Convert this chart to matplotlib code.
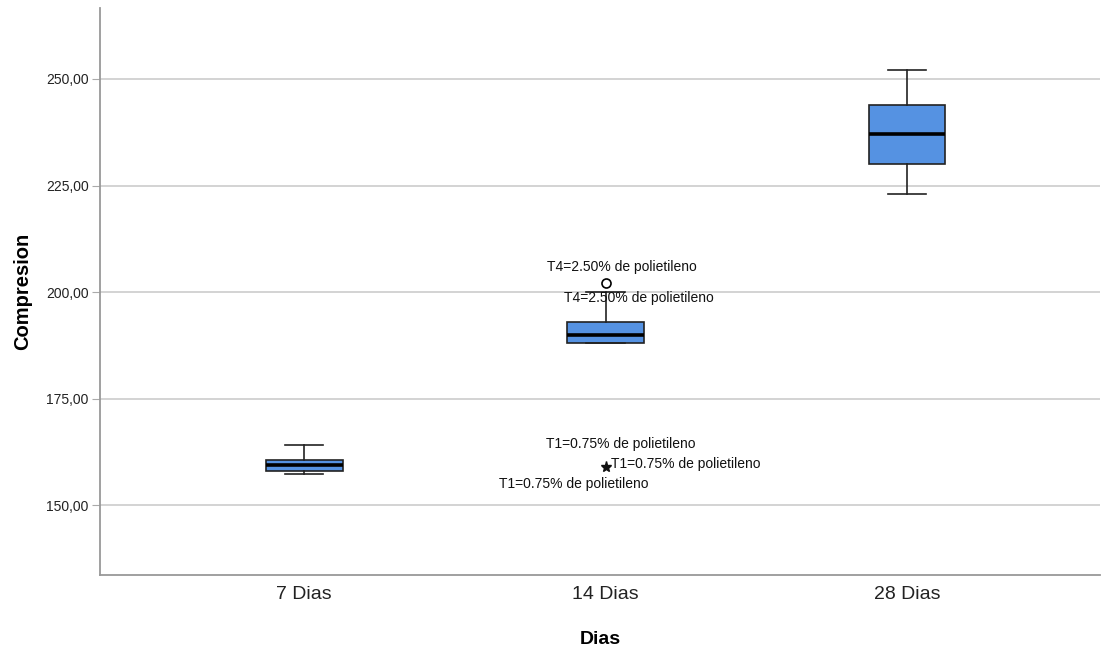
import matplotlib
matplotlib.use("Agg")
import matplotlib.pyplot as plt
from matplotlib.ticker import FuncFormatter

plt.rcParams['font.family'] = ['Liberation Sans', 'DejaVu Sans']

categories = ["7 Dias", "14 Dias", "28 Dias"]
whislo = [157.2, 188.0, 223.0]
q1 = [158.1, 188.0, 230.0]
medians = [159.4, 190.0, 237.0]
q3 = [160.7, 193.0, 244.0]
whishi = [164.1, 200.0, 252.0]

# outliers (group index, value, label)
outlier_group = [1]
outlier_value = [202.1]
outlier_labels = ["T4=2.50% de polietileno", "T4=2.50% de polietileno"]
extreme_group = [1]
extreme_value = [159.0]
extreme_labels = ["T1=0.75% de polietileno", "T1=0.75% de polietileno", "T1=0.75% de polietileno"]

yticks = [150, 175, 200, 225, 250]

fig = plt.figure(figsize=(11.02, 6.51), dpi=100)
ax = fig.add_axes([0.0907, 0.1167, 0.9075, 0.8713])

stats = []
for i, c in enumerate(categories):
    stats.append(dict(label=c, whislo=whislo[i], q1=q1[i], med=medians[i],
                      q3=q3[i], whishi=whishi[i], fliers=[]))

ax.bxp(stats, positions=range(len(categories)), widths=0.255, patch_artist=True,
       showfliers=False,
       boxprops=dict(facecolor='#5592e2', edgecolor='#222222', linewidth=1.2),
       medianprops=dict(color='black', linewidth=2.6),
       whiskerprops=dict(color='#222222', linewidth=1.2),
       capprops=dict(color='#222222', linewidth=1.2),
       capwidths=0.127, zorder=3)

ax.plot(outlier_group, outlier_value, linestyle='none', marker='o', markersize=6.5,
        markerfacecolor='white', markeredgecolor='black', markeredgewidth=1.2, zorder=4)
ax.plot(extreme_group, extreme_value, linestyle='none', marker='*', markersize=8,
        color='#111111', zorder=4)

outlier_offsets = [(16, 16), (33, -15)]
for lab, off in zip(outlier_labels, outlier_offsets):
    ax.annotate(lab, xy=(outlier_group[0], outlier_value[0]), xytext=off,
                textcoords='offset pixels', ha='center', va='center', fontsize=10, color='#111111')
extreme_offsets = [(15, 23), (80, 3), (-32, -17)]
for lab, off in zip(extreme_labels, extreme_offsets):
    ax.annotate(lab, xy=(extreme_group[0], extreme_value[0]), xytext=off,
                textcoords='offset pixels', ha='center', va='center', fontsize=10, color='#111111')

ax.set_xlim(-0.677, 2.64)
ax.set_ylim(133.6, 266.7)
ax.set_yticks(yticks)
ax.yaxis.set_major_formatter(FuncFormatter(lambda v, p: f"{v:.2f}".replace('.', ',')))
ax.set_xticks(range(len(categories)))
ax.set_xticklabels(categories, fontsize=14)
ax.tick_params(axis='x', length=0, pad=8, colors='#222222')
ax.tick_params(axis='y', length=6, color='#aaaaaa', labelsize=10, labelcolor='#222222', pad=2)
ax.grid(axis='y', color='#d0d0d0', linewidth=1.3, zorder=0)
ax.set_axisbelow(True)
for s in ['top', 'right']:
    ax.spines[s].set_visible(False)
for s in ['left', 'bottom']:
    ax.spines[s].set_color('#999999')
    ax.spines[s].set_linewidth(1.3)

ax.set_ylabel("Compresion", fontsize=14.5, fontweight='bold', labelpad=10)
ax.set_xlabel("Dias", fontsize=14, fontweight='bold', labelpad=20)

fig.savefig("out.png", dpi=100)
